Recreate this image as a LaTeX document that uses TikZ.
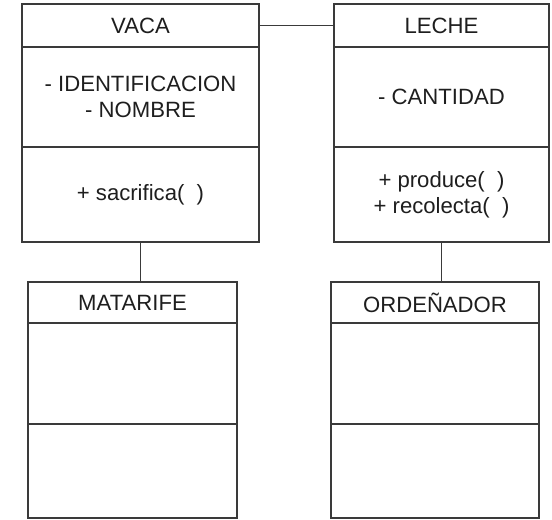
\documentclass[tikz,border=0pt]{standalone}
\usepackage{fontspec}
\setmainfont{Liberation Sans}
\definecolor{linec}{HTML}{3A3A3A}
\definecolor{textc}{HTML}{1E1E1E}
\tikzset{
  part/.style={draw=linec, line width=1.4bp, fill=white, inner sep=0pt, outer sep=0pt,
    text=textc, font=\fontsize{22.2}{26.3}\selectfont, align=center, anchor=north west},
  conn/.style={draw=linec, line width=1.4bp}
}
\begin{document}
\begin{tikzpicture}[x=1bp,y=-1bp]
\useasboundingbox (0,0) rectangle (552,520);
% VACA
\node[part, minimum width=237bp, minimum height=43bp] (vacaH) at (22,4) {VACA};
\node[part, minimum width=237bp, minimum height=100bp] (vacaA) at (22,47) {- IDENTIFICACION\\- NOMBRE};
\node[part, minimum width=237bp, minimum height=95bp] (vacaM) at (22,147) {+ sacrifica(\ \ )};
% LECHE
\node[part, minimum width=215bp, minimum height=43bp] (lecheH) at (334,4) {LECHE};
\node[part, minimum width=215bp, minimum height=100bp] (lecheA) at (334,47) {- CANTIDAD};
\node[part, minimum width=215bp, minimum height=95bp] (lecheM) at (334,147) {+ produce(\ \ )\\+ recolecta(\ \ )};
% MATARIFE
\node[part, minimum width=209bp, minimum height=41bp] (matH) at (28,282) {MATARIFE};
\node[part, minimum width=209bp, minimum height=101bp] (matA) at (28,323) {};
\node[part, minimum width=209bp, minimum height=94bp] (matM) at (28,424) {};
% ORDEÑADOR
\node[part, minimum width=208bp, minimum height=41bp] (ordH) at (331,282) {ORDEÑADOR};
\node[part, minimum width=208bp, minimum height=101bp] (ordA) at (331,323) {};
\node[part, minimum width=208bp, minimum height=94bp] (ordM) at (331,424) {};
% connectors
\draw[conn] (vacaH.east) -- (lecheH.west);
\draw[conn] (vacaM.south) -- (vacaM.south |- matH.north);
\draw[conn] (lecheM.south) -- (lecheM.south |- ordH.north);
\end{tikzpicture}
\end{document}
